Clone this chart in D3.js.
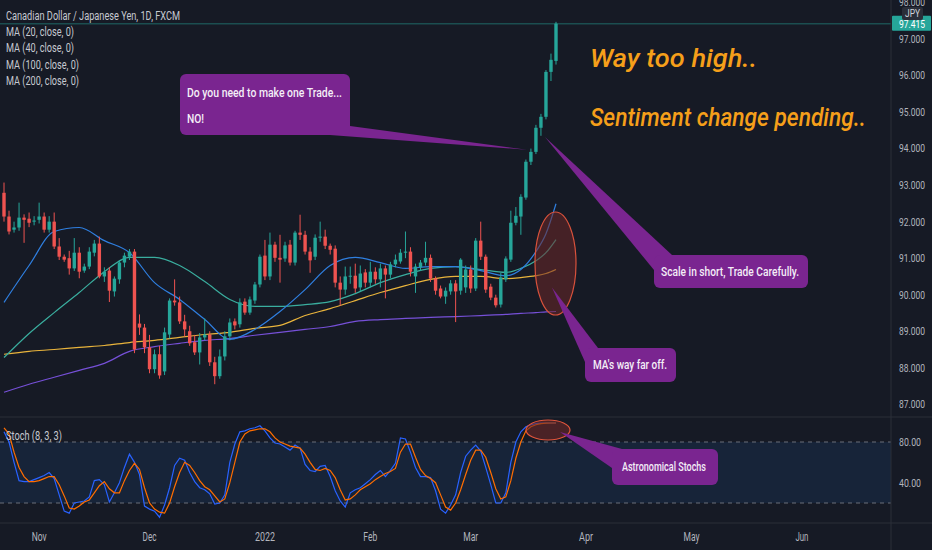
<!DOCTYPE html>
<html><head><meta charset="utf-8">
<script src="https://cdn.jsdelivr.net/npm/d3@7"></script>
<style>
html,body{margin:0;padding:0;background:#161a25;overflow:hidden;}
svg{display:block;}
text{font-family:Roboto,"Noto Sans",sans-serif;}
</style></head><body>
<svg id="c" width="932" height="550"></svg>
<script>
// ---------- DATA ----------
const opens = [92.79,92.14,91.78,91.84,92.11,92.08,92.00,92.05,92.14,91.78,92.00,91.32,91.04,91.00,90.72,91.15,90.66,90.77,91.15,91.40,90.50,90.66,90.09,90.42,90.88,91.04,91.18,89.21,89.10,88.56,87.96,88.37,87.90,88.91,89.84,89.79,89.27,89.00,88.70,88.42,88.83,88.91,88.15,87.77,88.31,88.86,89.27,89.19,89.81,89.51,89.84,90.28,91.07,90.50,91.37,91.01,90.99,91.37,90.88,91.70,91.64,91.18,91.04,91.56,91.59,91.34,91.26,90.33,90.14,90.50,90.52,90.20,90.61,90.33,90.63,90.42,90.72,90.55,90.83,90.91,91.15,91.18,90.50,90.75,90.88,91.01,90.44,90.17,89.95,90.09,90.31,90.11,90.20,90.69,90.17,91.48,91.04,90.22,89.92,89.73,90.42,90.96,91.97,92.14,92.66,93.64,93.91,94.57,94.87,96.10,96.40];
const highs = [93.07,92.30,92.00,92.52,92.20,92.25,92.15,92.52,92.25,92.15,92.25,91.55,91.10,91.20,91.55,91.30,90.85,91.30,91.50,91.59,90.75,90.75,90.50,90.95,91.15,91.25,91.25,89.46,89.20,88.90,88.50,88.60,89.10,89.90,90.42,89.95,89.45,89.15,88.90,88.95,89.35,89.00,88.30,88.50,89.00,89.35,89.35,89.90,89.90,89.95,90.35,91.10,91.50,91.70,91.45,91.64,91.45,91.50,91.75,92.19,91.75,91.30,91.65,92.00,91.78,91.40,91.35,90.50,90.77,90.77,90.85,90.80,90.70,90.90,90.75,90.85,90.80,90.90,91.10,91.25,91.73,91.30,90.85,90.95,91.45,91.10,90.50,90.25,90.20,90.40,90.40,91.00,90.80,90.80,91.55,92.00,91.10,90.30,90.00,90.60,91.05,92.30,92.40,92.75,93.70,94.00,94.65,94.95,96.15,96.60,97.47];
const lows = [92.00,91.65,91.70,91.75,91.42,91.85,91.90,91.95,91.70,91.70,91.25,90.95,90.90,90.55,90.65,90.45,90.60,90.70,91.05,90.45,90.35,89.80,89.95,90.30,90.75,90.95,88.40,88.90,88.40,87.85,87.85,87.70,87.80,88.80,89.70,89.20,88.85,88.60,88.35,88.09,88.75,88.05,87.55,87.70,88.20,88.75,89.05,89.10,89.45,89.45,89.75,90.20,90.40,90.40,90.90,90.33,90.90,90.80,90.80,91.50,91.10,90.60,90.95,91.45,91.25,91.10,90.20,89.70,90.00,90.30,90.05,90.10,90.20,90.20,90.30,90.20,89.90,90.45,90.75,90.85,91.00,90.50,90.05,90.65,90.80,90.35,90.00,89.90,89.75,90.00,89.25,90.00,90.05,90.05,90.10,90.95,90.05,89.85,89.65,89.65,90.35,90.90,91.90,91.64,92.60,93.55,93.85,94.35,94.80,95.85,96.30];
const closes = [92.14,91.73,91.84,92.11,92.05,91.97,92.03,92.14,91.78,92.00,91.32,91.04,90.96,90.72,91.15,90.63,90.77,91.18,91.40,90.50,90.63,90.11,90.44,90.88,91.07,91.18,88.50,89.10,88.56,87.96,88.37,87.79,88.97,89.84,89.79,89.27,89.05,88.67,88.42,88.83,88.91,88.15,87.77,88.31,88.86,89.24,89.16,89.79,89.51,89.87,90.28,91.04,90.50,91.37,91.01,90.96,91.35,90.88,91.70,91.64,91.18,90.94,91.56,91.59,91.34,91.23,90.33,90.14,90.50,90.52,90.17,90.58,90.33,90.63,90.42,90.72,90.55,90.83,90.96,91.15,91.18,90.63,90.77,90.88,91.01,90.44,90.11,89.95,90.11,90.31,90.09,90.96,90.69,90.17,91.48,91.04,90.14,89.92,89.71,90.47,90.99,91.97,92.16,92.68,93.64,93.91,94.57,94.87,96.10,96.43,97.42];

const stochK = [90,80,60,42,41,41,43,45,47,50,44,28,12,10,20,21,22,26,42,43,38,21,30,40,55,68,60,48,17,14,12,6,18,35,57,64,62,50,41,35,33,29,19,20,28,60,78,90,91,93,94,96,91,84,79,78,75,72,77,74,58,52,51,56,57,46,32,22,16,30,33,35,39,43,48,52,46,52,59,84,83,70,55,46,46,45,32,14,10,18,28,50,66,72,77,71,55,38,20,20,30,60,80,90,95,97,98,98.5,98.7,98.7,98.7];
const stochD = [94,88,70,55,46,41,41,42,44,46,46,38,27,15,14,17,21,23,30,37,41,34,30,30,42,52,59,53,35,20,14,11,10,20,36,50,60,57,50,42,36,33,27,21,24,40,60,80,88,91,92,93,93,90,84,80,78,76,75,74,68,60,53,52,54,52,45,33,23,24,28,33,36,39,43,46,49,51,54,70,78,78,65,53,47,44,40,28,16,13,20,33,48,62,72,72,65,50,34,24,26,42,64,80,91,95,97,98,98.5,98.7,98.7];

const maIndex = [0,5,10,15,20,25,30,35,40,45,50,55,60,65,70,75,80,85,90,95,100,103,106,108,110];
const ma20  = [89.79,90.80,91.73,91.84,91.48,91.15,90.33,89.87,89.32,88.78,89.05,89.54,90.14,90.80,91.02,90.88,90.72,90.77,90.77,90.66,90.52,90.69,91.18,91.67,92.49];
const ma40  = [88.28,88.94,89.51,90.06,90.63,91.02,91.02,90.80,90.36,89.87,89.68,89.68,89.73,89.81,90.03,90.33,90.55,90.72,90.77,90.69,90.61,90.72,90.93,91.15,91.51];
const ma100 = [88.37,88.45,88.50,88.56,88.61,88.69,88.75,88.83,88.91,88.97,89.08,89.16,89.43,89.62,89.84,90.06,90.25,90.42,90.50,90.50,90.44,90.47,90.52,90.58,90.69];
const ma200 = [87.33,87.55,87.74,87.93,88.12,88.45,88.58,88.67,88.75,88.80,88.89,88.97,89.05,89.13,89.27,89.32,89.35,89.38,89.40,89.43,89.46,89.49,89.51,89.53,89.54];

const priceTicks = [87,88,89,90,91,92,93,94,95,96,97,98];
const stochTicks = [80,40];
const stochBands = [80,20];
const monthLabels = ["Nov","Dec","2022","Feb","Mar","Apr","May","Jun"];
const monthBars = [7,29,52,73,93,116,137,159];
const lastPrice = 97.415;
const legendLines = ["Canadian Dollar / Japanese Yen, 1D, FXCM","MA (20, close, 0)","MA (40, close, 0)","MA (100, close, 0)","MA (200, close, 0)"];

// ---------- LAYOUT ----------
const W = 932, H = 550, axisX = 891, mainBottom = 417, stochBottom = 523;
const bg = "#161a25", lineCol = "#2a2e39", txt = "#b2b5be";
const up = "#26a69a", down = "#ef5350";

const svg = d3.select("#c");
svg.append("rect").attr("width",W).attr("height",H).attr("fill",bg);

const x = d3.scaleLinear().domain([0,110]).range([4,556]);
const y = d3.scaleLinear().domain([87,97]).range([404.3,39]);
const ys = d3.scaleLinear().domain([20,80]).range([503,442]);

function fit(sel, w){ return sel.attr("textLength",w).attr("lengthAdjust","spacingAndGlyphs"); }

const defs = svg.append("defs");
defs.append("clipPath").attr("id","mainClip").append("rect").attr("x",0).attr("y",0).attr("width",axisX).attr("height",mainBottom);
defs.append("clipPath").attr("id","stClip").append("rect").attr("x",0).attr("y",mainBottom).attr("width",axisX).attr("height",stochBottom-mainBottom);

// ---------- MAIN PANE ----------
const main = svg.append("g").attr("clip-path","url(#mainClip)");

main.append("line").attr("x1",0).attr("x2",axisX).attr("y1",y(lastPrice)).attr("y2",y(lastPrice))
  .attr("stroke",up).attr("stroke-width",0.8).attr("opacity",0.7);

const maDefs = [[ma200,"#7650d8"],[ma100,"#e9b43c"],[ma40,"#3aae9f"],[ma20,"#2f7fe0"]];
maDefs.forEach(([vals,col]) => {
  const line = d3.line().x((d,i)=>x(maIndex[i])).y(d=>y(d)).curve(d3.curveMonotoneX);
  main.append("path").attr("d",line(vals)).attr("fill","none").attr("stroke",col).attr("stroke-width",1.2);
});

const idx = d3.range(opens.length);
const cg = main.append("g");
cg.selectAll("line.w").data(idx).join("line").attr("class","w")
  .attr("x1",i=>x(i)).attr("x2",i=>x(i)).attr("y1",i=>y(highs[i])).attr("y2",i=>y(lows[i]))
  .attr("stroke",i=>closes[i]>=opens[i]?up:down).attr("stroke-width",1);
cg.selectAll("rect.b").data(idx).join("rect").attr("class","b")
  .attr("x",i=>x(i)-1.7).attr("width",3.4)
  .attr("y",i=>y(Math.max(opens[i],closes[i])))
  .attr("height",i=>Math.max(1,Math.abs(y(opens[i])-y(closes[i]))))
  .attr("fill",i=>closes[i]>=opens[i]?up:down);

const legendW = [174,68,68,73,73];
legendLines.forEach((t,k)=>{
  fit(svg.append("text").attr("x",6).attr("y",20+k*16.2).attr("fill","#c6c9d1").attr("font-size",12).text(t), legendW[k]);
});

main.append("ellipse").attr("cx",555.5).attr("cy",263.5).attr("rx",20.5).attr("ry",51.5)
  .attr("fill","rgba(110,40,40,0.55)").attr("stroke","#d9523c").attr("stroke-width",1.2);

const callCol = "#7a2590";
function callout(box, tail, lines, widths, tx, ty, lh){
  svg.append("polygon").attr("points",tail.map(p=>p.join(",")).join(" ")).attr("fill",callCol);
  svg.append("rect").attr("x",box[0]).attr("y",box[1]).attr("width",box[2]).attr("height",box[3]).attr("rx",6).attr("fill",callCol);
  lines.forEach((t,k)=>fit(svg.append("text").attr("x",tx).attr("y",ty+k*lh).attr("fill","#f4eef7")
    .attr("font-size",12.5).attr("font-weight",500).text(t), widths[k]));
}
callout([180,74,170,61],[[335,124],[350,126],[x(104.2),y(93.97)],[330,135]],["Do you need to make one Trade...","NO!"],[155,17],187,97,26);
callout([654,255,154,33],[[x(107.8),y(94.32)],[672,255],[654,270]],["Scale in short, Trade Carefully."],[138],661,276,0);
callout([585,348,91,34],[[x(109.2),y(90.2)],[598,348],[585,362]],["MA's way far off."],[74],593,369,0);

fit(svg.append("text").attr("x",590).attr("y",67).attr("fill","#f59f1a").attr("font-size",25).attr("font-style","italic").attr("font-weight",500).text("Way too high.."),167);
fit(svg.append("text").attr("x",590).attr("y",126).attr("fill","#f59f1a").attr("font-size",25).attr("font-style","italic").attr("font-weight",500).text("Sentiment change pending.."),276);

// ---------- STOCH PANE ----------
const st = svg.append("g").attr("clip-path","url(#stClip)");
st.append("rect").attr("x",0).attr("width",axisX).attr("y",ys(stochBands[0])).attr("height",ys(stochBands[1])-ys(stochBands[0])).attr("fill","#172439");
stochBands.forEach(v=>st.append("line").attr("x1",0).attr("x2",axisX).attr("y1",ys(v)).attr("y2",ys(v))
  .attr("stroke","#6b6f7a").attr("stroke-dasharray","4,4").attr("stroke-width",1));
const sl = d3.line().x((d,i)=>x(i)).y(d=>ys(d));
st.append("path").attr("d",sl(stochK)).attr("fill","none").attr("stroke","#2962ff").attr("stroke-width",1.2);
st.append("path").attr("d",sl(stochD)).attr("fill","none").attr("stroke","#ff6d00").attr("stroke-width",1.2);
fit(svg.append("text").attr("x",6).attr("y",440).attr("fill","#c6c9d1").attr("font-size",12).text("Stoch (8, 3, 3)"),56);

svg.append("ellipse").attr("cx",548).attr("cy",430).attr("rx",22).attr("ry",10)
  .attr("fill","rgba(110,40,40,0.6)").attr("stroke","#e0553c").attr("stroke-width",1.2);
callout([612,449,106,36],[[x(110.8),ys(89.8)],[622,449],[612,468]],["Astronomical Stochs"],[84],622,471,0);

// ---------- AXES / SEPARATORS ----------
svg.append("line").attr("x1",0).attr("x2",W).attr("y1",mainBottom).attr("y2",mainBottom).attr("stroke",lineCol);
svg.append("line").attr("x1",0).attr("x2",W).attr("y1",stochBottom).attr("y2",stochBottom).attr("stroke",lineCol);
svg.append("line").attr("x1",axisX).attr("x2",axisX).attr("y1",0).attr("y2",H).attr("stroke",lineCol);

const pa = svg.append("g");
pa.selectAll("text").data(priceTicks).join("text")
  .attr("x",899).attr("y",d=>y(d)).attr("dy","0.35em").attr("fill",txt).attr("font-size",11)
  .attr("textLength",26).attr("lengthAdjust","spacingAndGlyphs")
  .text(d=>d3.format(".3f")(d));
const sa = svg.append("g");
sa.selectAll("text").data(stochTicks).join("text")
  .attr("x",899).attr("y",d=>ys(d)).attr("dy","0.35em").attr("fill",txt).attr("font-size",11)
  .attr("textLength",22).attr("lengthAdjust","spacingAndGlyphs")
  .text(d=>d3.format(".2f")(d));

svg.append("rect").attr("x",892).attr("y",y(lastPrice)-8).attr("width",39).attr("height",15).attr("fill",up).attr("rx",1);
fit(svg.append("text").attr("x",899).attr("y",y(lastPrice)).attr("dy","0.35em").attr("fill","#fff").attr("font-size",11).text(d3.format(".3f")(lastPrice)),26);
svg.append("rect").attr("x",902).attr("y",7).attr("width",21).attr("height",13).attr("rx",2).attr("fill","#2a2e39");
fit(svg.append("text").attr("x",905).attr("y",13.5).attr("dy","0.35em").attr("fill","#d1d4dc").attr("font-size",10).text("JPY"),15);

const xW = [15,14,20,14,15,14,16,13];
const xa = svg.append("g");
xa.selectAll("text").data(monthBars).join("text")
  .attr("x",d=>x(d)).attr("y",541).attr("text-anchor","middle").attr("fill",txt).attr("font-size",12)
  .attr("textLength",(d,i)=>xW[i]).attr("lengthAdjust","spacingAndGlyphs")
  .text((d,i)=>monthLabels[i]);
</script>
</body></html>
